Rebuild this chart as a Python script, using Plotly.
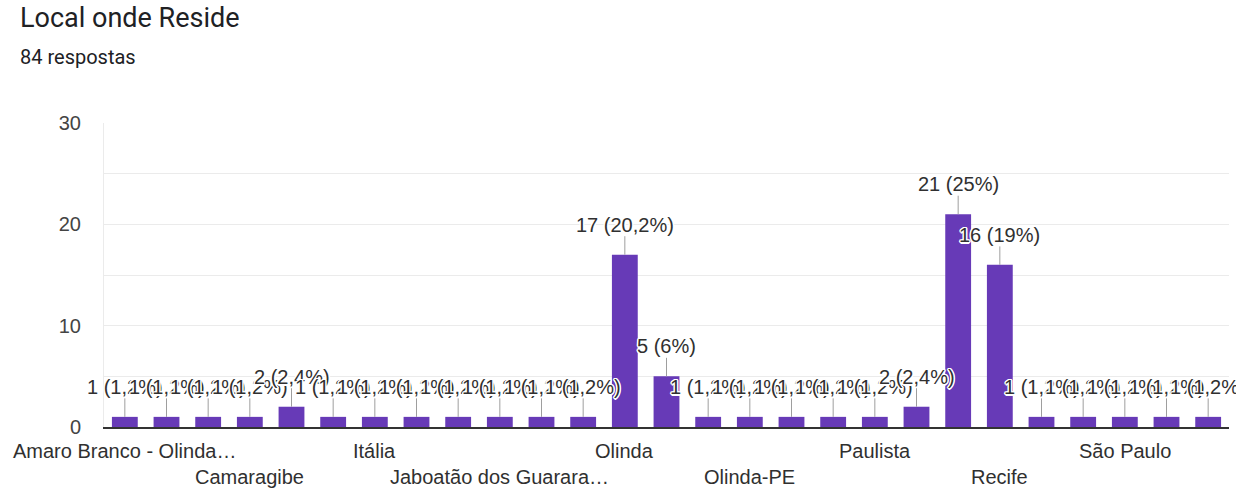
import plotly.graph_objects as go

title = "Local onde Reside"
subtitle = "84 respostas"

categories = [
    "Amaro Branco - Olinda - PE", "Bairro Novo - Olinda", "Cabo de Santo Agostinho",
    "Camaragibe", "Casa Caiada", "Igarassu", "Itália", "Jaboatão", "Jaboatão - PE",
    "Jaboatão dos Guararapes - PE", "Janga", "Moreno", "Olinda", "Olinda - PE",
    "Olinda PE", "Olinda-PE", "Olinda/PE", "Paratibe", "Paulista", "Paulista - PE",
    "RECIFE", "Recife", "Recife - PE", "Recife-PE", "São Paulo",
    "Vitória de Santo Antão", "Zona Sul - Recife",
]
counts = [1, 1, 1, 1, 2, 1, 1, 1, 1, 1, 1, 1, 17, 5, 1, 1, 1, 1, 1, 2, 21, 16, 1, 1, 1, 1, 1]

# visible x tick labels (category index -> displayed text), alternating rows
tick_index = [0, 3, 6, 9, 12, 15, 18, 21, 24]
tick_text = ["Amaro Branco - Olinda…", "Camaragibe", "Itália", "Jaboatão dos Guarara…",
             "Olinda", "Olinda-PE", "Paulista", "Recife", "São Paulo"]

y_ticks = [0, 10, 20, 30]

total = sum(counts)


def fmt_pct(v):
    p = round(100 * v / total, 1)
    s = ("%.1f" % p).rstrip("0").rstrip(".")
    return s.replace(".", ",")


labels = ["%d (%s%%)" % (c, fmt_pct(c)) for c in counts]

BAR = "#673ab7"
FONT = "Liberation Sans, Arial, sans-serif"
HALO = ("-1px -1px 0 #fff, 1px -1px 0 #fff, -1px 1px 0 #fff, 1px 1px 0 #fff, "
        "0 -1.5px 0 #fff, 0 1.5px 0 #fff, -1.5px 0 0 #fff, 1.5px 0 0 #fff")

fig = go.Figure()
fig.add_trace(go.Bar(
    x=categories, y=counts, marker=dict(color=BAR, line=dict(width=0)),
    hoverinfo="skip", showlegend=False,
))

annotations = []
for cat, c, lab in zip(categories, counts, labels):
    annotations.append(dict(
        x=cat, y=c, xref="x", yref="y", text=lab, showarrow=True,
        arrowhead=0, arrowwidth=1, arrowcolor="#9e9e9e", ax=0, ay=-30,
        font=dict(family=FONT, size=20, color="#303030", shadow=HALO),
        borderpad=0,
    ))

for k, (idx, txt) in enumerate(zip(tick_index, tick_text)):
    annotations.append(dict(
        x=categories[idx], y=0, xref="x", yref="paper", text=txt, showarrow=False,
        yanchor="middle", yshift=-24 if k % 2 == 0 else -50,
        font=dict(family=FONT, size=20, color="#303030"),
    ))

annotations.append(dict(
    x=20, y=18, xref="paper", yref="paper", text=title, showarrow=False,
    xanchor="left", yanchor="middle",
    font=dict(family="Roboto, sans-serif", size=27, color="#202124"),
))
annotations.append(dict(
    x=20, y=57, xref="paper", yref="paper", text=subtitle, showarrow=False,
    xanchor="left", yanchor="middle",
    font=dict(family="Roboto, sans-serif", size=20, color="#202124"),
))
# convert pixel positions for title/subtitle to paper coords
H, W = 491, 1236
ml, mr, mt, mb = 104, 7, 123, 64
for a in annotations[-2:]:
    px, py = a["x"], a["y"]
    a["x"] = (px - ml - 2) / (W - ml - mr)
    a["y"] = 1 + (mt - py) / (H - mt - mb)

fig.update_layout(
    width=W, height=H,
    margin=dict(l=ml, r=mr, t=mt, b=mb),
    paper_bgcolor="white", plot_bgcolor="white",
    bargap=0.38,
    annotations=annotations,
    xaxis=dict(
        type="category", categoryorder="array", categoryarray=categories,
        range=[-0.5, len(categories) - 0.5], showticklabels=False, ticks="",
        showgrid=False, showline=True, linecolor="#333333", linewidth=1.5,
        zeroline=False, fixedrange=True,
    ),
    yaxis=dict(
        range=[0, 30], tickvals=y_ticks, ticktext=[str(v) for v in y_ticks],
        tickfont=dict(family=FONT, size=20, color="#444444"),
        showgrid=True, gridcolor="#ebebeb", gridwidth=1,
        minor=dict(dtick=5, showgrid=True, gridcolor="#ebebeb", gridwidth=1),
        showline=True, linecolor="#ebebeb", linewidth=1,
        zeroline=False, ticks="", ticklabelstandoff=18, fixedrange=True,
    ),
)

fig.write_html("out.html")
